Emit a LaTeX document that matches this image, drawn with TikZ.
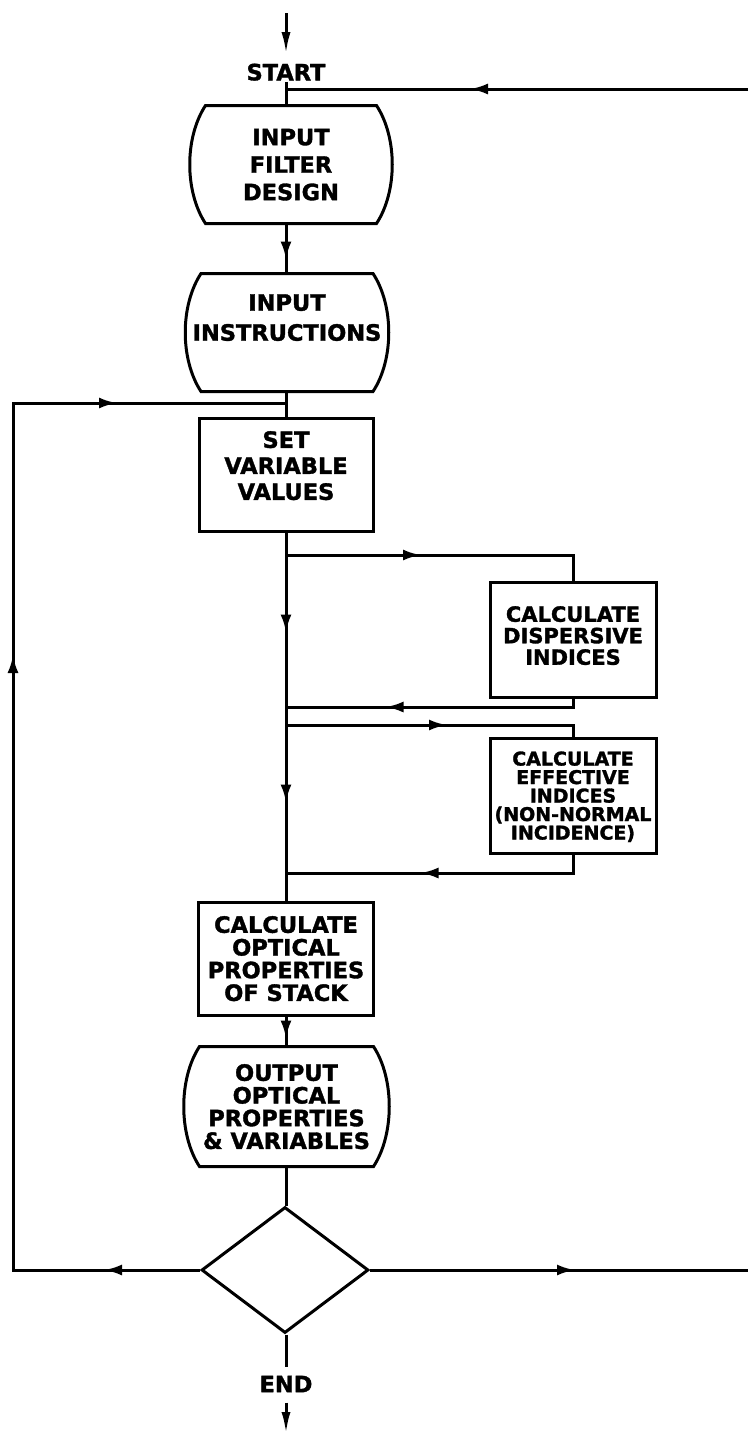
\documentclass[tikz,border=0pt]{standalone}
\usepackage{fontspec}
\setmainfont{DejaVu Sans}[BoldFeatures={FakeBold=1.5}]
\usetikzlibrary{arrows.meta,shapes.geometric,decorations.markings,calc}
\newcommand\displine[1]{%
  \draw ([xshift=16pt]#1.north west)
    .. controls ([xshift=-5pt,yshift=-32pt]#1.north west) and ([xshift=-5pt,yshift=32pt]#1.south west)
    .. ([xshift=16pt]#1.south west) -- ([xshift=-16pt]#1.south east)
    .. controls ([xshift=5pt,yshift=32pt]#1.south east) and ([xshift=5pt,yshift=-32pt]#1.north east)
    .. ([xshift=-16pt]#1.north east) -- cycle;}
\begin{document}
\begin{tikzpicture}[x=1pt,y=-1pt,line width=3pt,
  lbl/.style={inner sep=0pt,font=\fontsize{22.5}{22.5}\selectfont\bfseries,text depth=0pt},
  rbox/.style={draw,rectangle,inner sep=0pt,align=center,text depth=0pt},
  dispbox/.style={rectangle,inner sep=0pt,align=center,text depth=0pt},
  fbig/.style={font=\fontsize{22.5}{#1}\selectfont\bfseries},
  arr/.style={postaction={decorate,decoration={markings,mark=at position #1 with {\arrow{Latex[length=18pt,width=11pt]}}}}},
  endtip/.style={-{Latex[length=22pt,width=9pt]}}]
\useasboundingbox (0,0) rectangle (748,1436);

% nodes
\coordinate (topin) at (286,13);
\node[lbl] (start) at (286,72) {START};
\coordinate (j0) at (286,89);
\coordinate (c6) at (748,89);
\node[dispbox,fbig=27.5,minimum width=200pt,minimum height=115pt] (b1) at (291,164.5) {INPUT\\FILTER\\DESIGN};
\node[dispbox,fbig=30,minimum width=201pt,minimum height=115pt] (b2) at (287,332.5) {INPUT\\INSTRUCTIONS\\\mbox{}};
\coordinate (j1) at (286,403);
\node[rbox,fbig=26,minimum width=174pt,minimum height=113pt] (setv) at (286,474.5) {SET\\VARIABLE\\VALUES\\[-8pt]\mbox{}};
\coordinate (j2) at (286,555);
\coordinate (c1) at (573,555);
\node[rbox,font=\fontsize{21}{21.5}\selectfont\bfseries,minimum width=166pt,minimum height=115pt] (disp) at (573,639.5) {\mbox{}\\[-14pt]CALCULATE\\DISPERSIVE\\INDICES};
\coordinate (c2) at (573,707);
\coordinate (j3) at (286,707);
\coordinate (j4) at (286,725);
\coordinate (c3) at (573,725);
\node[rbox,font=\fontsize{19}{18.5}\selectfont\bfseries,minimum width=166pt,minimum height=115pt] (eff) at (573,795.5) {CALCULATE\\EFFECTIVE\\INDICES\\(NON-NORMAL\\INCIDENCE)};
\coordinate (c4) at (573,873);
\coordinate (j5) at (286,873);
\node[rbox,fbig=22.7,minimum width=175pt,minimum height=113pt] (copt) at (286,958.5) {CALCULATE\\OPTICAL\\PROPERTIES\\OF STACK};
\node[dispbox,fbig=22.7,minimum width=203pt,minimum height=117pt] (outp) at (286.5,1106.5) {OUTPUT\\OPTICAL\\PROPERTIES\\\& VARIABLES};
\node[draw,diamond,inner sep=0pt,minimum width=167pt,minimum height=126pt] (dia) at (285,1270) {};
\coordinate (c5) at (748,1270);
\coordinate (c7) at (13,1270);
\coordinate (c8) at (13,403);
\node[lbl] (endl) at (286,1384) {END};
\coordinate (botout) at (286,1434);

% display outlines
\displine{b1}
\displine{b2}
\displine{outp}

% connectors
\draw[endtip] (topin) -- ([yshift=8pt]start.north);
\draw (start.south) -- (b1.north -| start);
\draw[arr=278pt] (c6) -- (j0);
\draw[arr=36pt] (b1.south -| start) -- (b2.north -| start);
\draw (b2.south -| start) -- (setv.north);
\draw[arr=96pt,arr=802pt,arr=1158pt] (dia.west) -- (c7) -- (c8) -- (j1);
\draw[arr=100pt,arr=270pt] (setv.south) -- (copt.north);
\draw[arr=135pt] (j2) -- (c1) -- (disp.north);
\draw[arr=196pt] (disp.south) -- (c2) -- (j3);
\draw[arr=161pt] (j4) -- (c3) -- (eff.north);
\draw[arr=171pt] (eff.south) -- (c4) -- (j5);
\draw[arr=22pt] (copt.south) -- (outp.north -| copt);
\draw (outp.south -| copt) -- (dia.north -| copt);
\draw[arr=205pt] (dia.east) -- (c5);
\draw (dia.south -| endl) -- ([yshift=7pt]endl.north);
\draw[endtip] ([yshift=-9pt]endl.south) -- (botout);
\end{tikzpicture}
\end{document}
